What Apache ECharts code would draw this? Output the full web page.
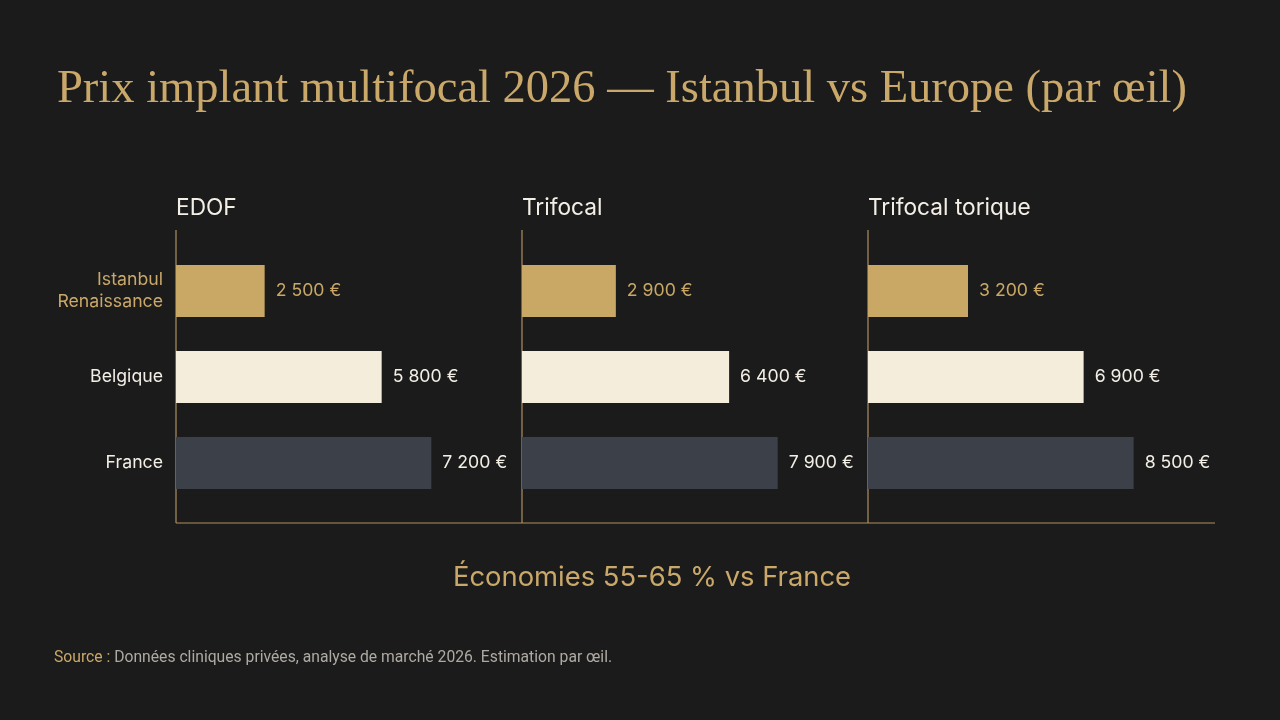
<!DOCTYPE html>
<html>
<head>
<meta charset="utf-8">
<title>Prix implant multifocal 2026</title>
<script src="https://cdn.jsdelivr.net/npm/echarts@6/dist/echarts.min.js"></script>
<style>
  html, body { margin: 0; padding: 0; background: #1b1b1b; }
  #container { width: 1280px; height: 720px; }
</style>
</head>
<body>
<div id="container"></div>
<script>
// données du graphique
var categories = ['Istanbul\nRenaissance', 'Belgique', 'France'];
var panelNames = ['EDOF', 'Trifocal', 'Trifocal torique'];
var edofPrices = [2500, 5800, 7200];
var trifocalPrices = [2900, 6400, 7900];
var toricPrices = [3200, 6900, 8500];
var xMax = [8460, 9270, 9600];   // échelle de chaque panneau

var panelData = [edofPrices, trifocalPrices, toricPrices];
var barColors = ['#c9a866', '#f5eddb', '#3c4049'];
var labelColors = ['#c9a866', '#f3efe6', '#f3efe6'];
var gold = '#c9a86a';
var lineColor = '#ad9160';
var sans = 'Inter, "Noto Sans", sans-serif';

var panelLeft = [176, 522, 868];
var gridTop = 248, gridHeight = 258;

function fmt(v) {
    return String(v).replace(/\B(?=(\d{3})+(?!\d))/g, ' ') + ' €';
}

var grids = [], xAxes = [], yAxes = [], series = [];
panelData.forEach(function (vals, i) {
    grids.push({left: panelLeft[i], top: gridTop, width: 300, height: gridHeight, containLabel: false});
    xAxes.push({
        type: 'value', gridIndex: i, min: 0, max: xMax[i],
        show: false, splitLine: {show: false}
    });
    yAxes.push({
        type: 'category', gridIndex: i, inverse: true, data: categories,
        axisLine: {show: false}, axisTick: {show: false},
        axisLabel: {
            show: i === 0, margin: 13, fontFamily: sans, fontSize: 17.7, lineHeight: 22,
            color: function (val, idx) { return idx === 0 ? gold : '#f3efe6'; }
        }
    });
    series.push({
        type: 'bar', xAxisIndex: i, yAxisIndex: i, barWidth: 52,
        data: vals.map(function (v, k) {
            return {
                value: v,
                itemStyle: {color: barColors[k]},
                label: {color: labelColors[k]}
            };
        }),
        label: {
            show: true, position: 'right', distance: 11,
            fontFamily: sans, fontSize: 17.7,
            formatter: function (p) { return fmt(p.value); }
        },
        silent: true, animation: false
    });
});

var graphics = [
    {type: 'text', x: 57, y: 90, style: {
        text: 'Prix implant multifocal 2026 — Istanbul vs Europe (par œil)',
        fill: gold, font: '46.5px "Liberation Serif", "DejaVu Serif", serif',
        textVerticalAlign: 'middle'}},
    {type: 'text', x: 652, y: 578, style: {
        text: 'Économies 55-65 % vs France', fill: gold,
        font: '27.4px ' + sans, textAlign: 'center', textVerticalAlign: 'middle'}},
    {type: 'text', x: 54, y: 658, style: {
        text: '{g|Source :} Données cliniques privées, analyse de marché 2026. Estimation par œil.',
        fill: '#aeaaa3', font: '15.7px Roboto, sans-serif', textVerticalAlign: 'middle',
        rich: {g: {fill: gold, font: '15.7px Roboto, sans-serif'}}}},
    {type: 'line', shape: {x1: 176, y1: 523, x2: 1215, y2: 523},
        style: {stroke: lineColor, lineWidth: 1.2}}
];
panelNames.forEach(function (name, i) {
    graphics.push({type: 'text', x: panelLeft[i], y: 208, style: {
        text: name, fill: '#f3efe6', font: '22.7px ' + sans, textVerticalAlign: 'middle'}});
    graphics.push({type: 'line', shape: {x1: panelLeft[i], y1: 230, x2: panelLeft[i], y2: 523},
        style: {stroke: lineColor, lineWidth: 1.2}});
});

var myChart = echarts.init(document.getElementById('container'));
var option = {
    backgroundColor: '#1b1b1b',
    animation: false,
    grid: grids,
    xAxis: xAxes,
    yAxis: yAxes,
    series: series,
    graphic: graphics
};
myChart.setOption(option, true);
</script>
</body>
</html>
